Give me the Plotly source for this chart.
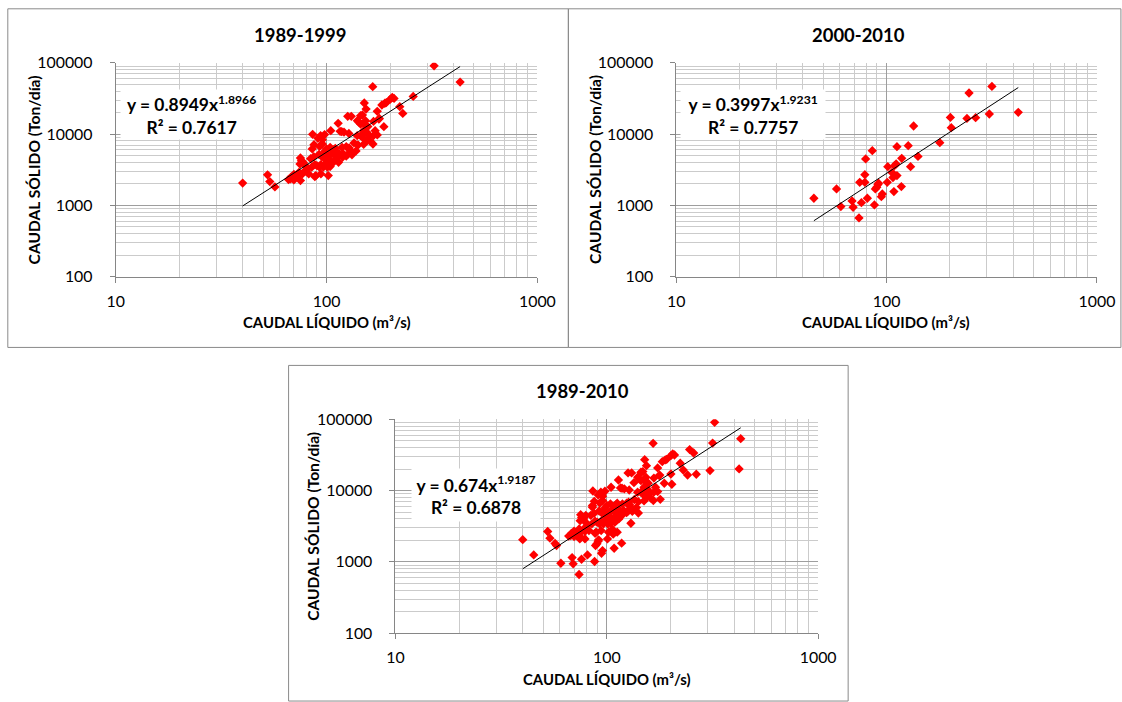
import plotly.graph_objects as go
import numpy as np

W, H = 1122, 702

# ---------------- data ----------------
q_1989_1999 = [40, 52.5, 53.8, 56.9, 67.5, 70, 68, 72.6, 74, 76.8, 78.7, 75.2, 88, 82.3, 89, 94,
               75.2, 76, 77.6, 74.8, 79.4, 81, 85, 88, 90, 92.5, 94, 96.5, 99.5, 101, 104, 106,
               101.9, 103, 108, 112, 92, 95, 87.2, 85.5, 92.7, 95.5, 85.9, 91, 93.7, 97.9, 95.5,
               104, 108, 112, 106, 118.5, 124, 128, 120, 126, 130, 104.7, 116, 118, 121, 127.6,
               139.8, 145, 149, 155, 160, 167, 155, 162, 150, 166, 138, 113.5, 126, 131, 145, 148,
               153, 153, 157, 140, 142.5, 145, 150, 153, 170, 174, 151, 154, 174, 178, 187, 165.6,
               189, 192, 183, 201, 205, 209, 222.5, 229.9, 257.6, 323.6, 430, 167, 177,
               84, 87, 98, 100, 103, 110, 115, 119, 124, 132, 135, 141, 70, 66, 80, 110, 114, 98]
qs_1989_1999 = [2050, 2670, 2150, 1810, 2340, 2270, 2500, 2520, 2900, 2750, 2990, 2220, 2520, 2750, 2610, 2750,
                4600, 4200, 3980, 3780, 3590, 3230, 3420, 3720, 3600, 3420, 3720, 3420, 3930, 3420, 3500, 3830,
                2610, 4330, 4130, 4620, 5170, 4810, 7070, 6170, 6700, 7250, 9880, 8700, 9480, 9800, 8320,
                6500, 6000, 5560, 5270, 6500, 6660, 6370, 5270, 5170, 5860, 11150, 10900, 10800, 10600, 10200,
                9480, 9480, 8800, 10600, 9500, 9500, 8060, 7800, 7170, 7240, 5780, 14100, 17700, 17700, 18100, 18500,
                15380, 13300, 12700, 15380, 14570, 13780, 11150, 10600, 11150, 9700, 27200, 22400, 20800, 16500, 12670, 46100,
                27000, 27500, 25500, 30900, 32700, 31600, 24200, 19460, 33700, 90800, 53600, 15000, 16200,
                4500, 4800, 5700, 6200, 5000, 5000, 5300, 4700, 4900, 5100, 7500, 7000, 2700, 2300, 3100, 6300, 4000, 4500]

q_2000_2010 = [45.1, 57.8, 60.6, 68.5, 69.3, 73.9, 75.9, 81, 87.5, 74.5, 78.8, 78.8, 79.5, 85.5,
               88.4, 89.8, 91, 91.5, 94.4, 95.4, 100.7, 108.3, 117.5, 101.3, 106.1, 107.2, 112,
               109, 111, 112, 118, 126.7, 130, 134.4, 141, 179, 201, 203, 246.5, 241, 265, 316.7, 307.8, 422.6]
qs_2000_2010 = [1253, 1695, 957, 1150, 938, 665, 1088, 1253, 1012, 2100, 2100, 2690, 4470, 5840,
                1695, 1790, 1950, 2040, 1320, 1440, 2100, 1554, 1828, 3480, 2880, 2450, 2610,
                3590, 3800, 6640, 4550, 6860, 3480, 12940, 4850, 7550, 17100, 12270, 37600, 16560, 16950, 46500, 19100, 20130]

q_1989_2010 = q_1989_1999 + q_2000_2010
qs_1989_2010 = qs_1989_1999 + qs_2000_2010

titles = ["1989-1999", "2000-2010", "1989-2010"]
coef_a = [0.8949, 0.3997, 0.674]
coef_b = [1.8966, 1.9231, 1.9187]
coef_a_txt = ["0.8949", "0.3997", "0.674"]
coef_b_txt = ["1.8966", "1.9231", "1.9187"]
r2_txt = ["0.7617", "0.7757", "0.6878"]

x_ticks = [10, 100, 1000]
x_tick_labels = ["10", "100", "1000"]
y_ticks = [100, 1000, 10000, 100000]
y_tick_labels = ["100", "1000", "10000", "100000"]
x_minor = [m * d for d in (10, 100) for m in range(2, 10)]
y_minor = [m * d for d in (100, 1000, 10000) for m in range(2, 10)]

x_title = "CAUDAL LÍQUIDO (m³/s)"
y_title = "CAUDAL SÓLIDO (Ton/día)"

series = [(q_1989_1999, qs_1989_1999), (q_2000_2010, qs_2000_2010), (q_1989_2010, qs_1989_2010)]

# ---------------- layout geometry (target pixels in the photographed picture) ----------------
panels = [
    dict(plot=(115, 537, 62, 276), box=(7, 8, 568, 347), title=(299, 34), xt=(326, 322), yt=(33, 169), eq=(122, 260, 90, 138)),
    dict(plot=(676, 1097, 62, 276), box=(568, 8, 1121, 347), title=(858, 34), xt=(886, 322), yt=(594, 169), eq=(682, 823, 90, 138)),
    dict(plot=(395, 818, 419, 633), box=(288, 365, 848, 701), title=(582, 391), xt=(607, 679), yt=(313, 526), eq=(413, 538, 469, 520)),
]

# the page is photographed slightly shrunk and offset; compensate for it
SX, OX = 0.9767, 8.2
SY, OY = 0.974, 9.2
SF = (SX + SY) / 2

def fx(x):
    return (x - OX) / SX

def fy(y):
    return (y - OY) / SY

def px(x):
    return fx(x) / W

def py(y):
    return 1 - fy(y) / H

def fs(s):
    return s / SF

FONT = "Lato, 'Open Sans', Arial, sans-serif"
MAJOR = "#9e9e9e"
MINOR = "#cbcbcb"
AXIS = "#868686"

fig = go.Figure()
annotations = []
shapes = []

for i, (p, (xs, ys)) in enumerate(zip(panels, series)):
    n = "" if i == 0 else str(i + 1)
    xa, ya = "x" + n, "y" + n
    fig.add_trace(go.Scatter(x=xs, y=ys, mode="markers", xaxis=xa, yaxis=ya,
                             marker=dict(symbol="diamond", size=fs(7), color="#ff0000", line=dict(width=0)),
                             showlegend=False, hoverinfo="x+y"))
    xl = np.logspace(np.log10(min(xs)), np.log10(max(xs)), 40)
    yl = coef_a[i] * xl ** coef_b[i]
    fig.add_trace(go.Scatter(x=xl, y=yl, mode="lines", xaxis=xa, yaxis=ya,
                             line=dict(color="#000000", width=1), showlegend=False, hoverinfo="skip"))

    x0, x1, y0, y1 = p["plot"]
    common = dict(type="log", showline=True, linecolor=AXIS, linewidth=1,
                  ticks="outside", ticklen=5, tickcolor=AXIS, tickwidth=1,
                  showgrid=True, gridcolor=MAJOR, gridwidth=1, zeroline=False,
                  tickfont=dict(family=FONT, size=fs(15.5), color="#000000"),
                  minor=dict(tickmode="array", showgrid=True, gridcolor=MINOR, gridwidth=1, ticks=""))
    fig.update_layout(**{
        "xaxis" + n: dict(common, domain=[px(x0), px(x1)], range=[1, 3], anchor=ya,
                          tickmode="array", tickvals=x_ticks, ticktext=x_tick_labels,
                          minor=dict(common["minor"], tickvals=x_minor), ticklabelstandoff=5),
        "yaxis" + n: dict(common, domain=[py(y1), py(y0)], range=[2, 5], anchor=xa,
                          tickmode="array", tickvals=y_ticks, ticktext=y_tick_labels,
                          minor=dict(common["minor"], tickvals=y_minor), ticklabelstandoff=14),
    })

    annotations.append(dict(text="<b>%s</b>" % titles[i], x=px(p["title"][0]), y=py(p["title"][1]),
                            xref="paper", yref="paper", showarrow=False, xanchor="center", yanchor="middle",
                            font=dict(family=FONT, size=fs(18), color="#000000")))
    annotations.append(dict(text="<b>%s</b>" % x_title, x=px(p["xt"][0]), y=py(p["xt"][1]),
                            xref="paper", yref="paper", showarrow=False, xanchor="center", yanchor="middle",
                            font=dict(family=FONT, size=fs(14.5), color="#000000")))
    annotations.append(dict(text="<b>%s</b>" % y_title, x=px(p["yt"][0]), y=py(p["yt"][1]), textangle=-90,
                            xref="paper", yref="paper", showarrow=False, xanchor="center", yanchor="middle",
                            font=dict(family=FONT, size=fs(15.2), color="#000000")))
    ex0, ex1, ey0, ey1 = p["eq"]
    annotations.append(dict(text="<b>y = %sx<sup>%s</sup></b><br><b>R² = %s</b>" % (coef_a_txt[i], coef_b_txt[i], r2_txt[i]),
                            x=px((ex0 + ex1) / 2), y=py((ey0 + ey1) / 2), xref="paper", yref="paper",
                            showarrow=False, xanchor="center", yanchor="middle", align="center",
                            width=(ex1 - ex0) / SX, height=(ey1 - ey0) / SY, bgcolor="#ffffff", borderpad=0,
                            font=dict(family=FONT, size=fs(17), color="#000000")))
    bx0, by0, bx1, by1 = p["box"]
    shapes.append(dict(type="rect", xref="paper", yref="paper", x0=px(bx0), x1=px(bx1), y0=py(by1), y1=py(by0),
                       line=dict(color="#8a8a8a", width=1), fillcolor="rgba(0,0,0,0)", layer="below"))

fig.update_layout(width=W, height=H, margin=dict(l=0, r=0, t=0, b=0),
                  paper_bgcolor="#ffffff", plot_bgcolor="#ffffff",
                  annotations=annotations, shapes=shapes, showlegend=False,
                  font=dict(family=FONT))

post = (
    "document.documentElement.style.margin='0';document.documentElement.style.padding='0';"
    "document.documentElement.style.overflow='hidden';"
    "document.body.style.margin='0';document.body.style.padding='0';document.body.style.overflow='hidden';"
    "var gd=document.getElementsByClassName('plotly-graph-div')[0];"
    "gd.style.position='fixed';gd.style.left='0px';gd.style.top='0px';"
)
fig.write_html("out.html", config={"displayModeBar": False}, post_script=post)
